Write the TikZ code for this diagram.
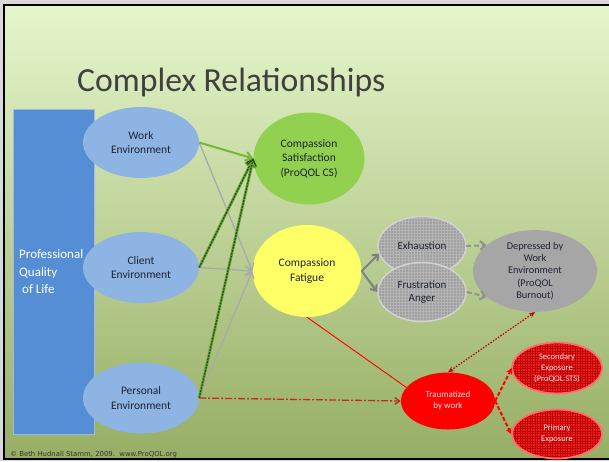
\documentclass[tikz,border=0pt]{standalone}
\usepackage{fontspec}
\setmainfont{Carlito}
\newfontfamily\footfont{DejaVu Sans}
\usetikzlibrary{patterns,patterns.meta,arrows.meta,shapes.geometric}
\definecolor{bgtop}{RGB}{230,246,204}
\definecolor{bgbot}{RGB}{150,174,100}
\definecolor{qolblue}{RGB}{85,142,213}
\definecolor{envblue}{RGB}{141,180,226}
\definecolor{csgreen}{RGB}{146,208,80}
\definecolor{cfyellow}{RGB}{255,255,102}
\definecolor{hatchgray}{RGB}{160,160,160}
\definecolor{hatchline}{RGB}{182,182,182}
\definecolor{hatchborder}{RGB}{210,210,210}
\definecolor{depgray}{RGB}{166,166,166}
\definecolor{txtdark}{RGB}{30,35,50}
\definecolor{titlegray}{RGB}{64,64,64}
\definecolor{lightgreenline}{RGB}{115,185,55}
\definecolor{darkgreenline}{RGB}{40,75,25}
\definecolor{midgreenline}{RGB}{100,165,55}
\definecolor{grayline}{RGB}{170,170,170}
\definecolor{darkgrayline}{RGB}{128,128,128}
\definecolor{dashgrayline}{RGB}{145,145,145}
\definecolor{dashdotred}{RGB}{200,40,30}
\definecolor{dotred}{RGB}{190,0,0}
\definecolor{redborder}{RGB}{255,110,110}
\definecolor{redfill}{RGB}{235,35,35}
\definecolor{redgrid}{RGB}{190,0,0}
\definecolor{pinkwhite}{RGB}{255,225,225}
\tikzset{
  envnode/.style={ellipse, fill=envblue, minimum width=116pt, minimum height=71pt,
    inner sep=0pt, align=center, text=txtdark, font=\fontsize{11.5}{14.5}\selectfont},
  bignode/.style={ellipse, inner sep=0pt, align=center, text=txtdark,
    font=\fontsize{11.5}{14.5}\selectfont},
  hatchnode/.style={ellipse, minimum width=88pt, minimum height=59pt, inner sep=0pt,
    align=center, draw=hatchborder, line width=1.5pt, preaction={fill=hatchgray},
    pattern={Hatch[angle=0,distance=3pt,line width=0.35pt]}, pattern color=hatchline,
    text=txtdark, font=\fontsize{11}{12.7}\selectfont},
  rednode/.style={ellipse, minimum width=90pt, minimum height=51pt, inner sep=0pt,
    align=center, draw=redborder, line width=1.8pt, preaction={fill=redfill},
    pattern={Hatch[angle=0,distance=2.5pt,line width=0.5pt]}, pattern color=redgrid,
    text=pinkwhite, font=\fontsize{8.5}{10.7}\selectfont},
  greenarrow/.style={draw=lightgreenline, line width=2pt,
    -{Straight Barb[length=6pt,width=9pt]}},
  dkgreenarrow/.style={draw=darkgreenline, line width=1.2pt, dash pattern=on 2pt off 1pt,
    preaction={draw=midgreenline, line width=2.8pt, solid},
    -{Straight Barb[length=6pt,width=9pt]}},
  greyline/.style={draw=grayline, line width=1.3pt, -{Straight Barb[length=6pt,width=9pt]}},
  greyarrow/.style={draw=darkgrayline, line width=2pt, -{Straight Barb[length=5pt,width=8pt]}},
  greydash/.style={draw=dashgrayline, line width=2pt, dash pattern=on 5pt off 3pt,
    -{Straight Barb[length=5pt,width=9pt]}},
  redthin/.style={draw=red, line width=0.9pt},
  reddashdot/.style={draw=dashdotred, line width=1.3pt, dash pattern=on 7pt off 2pt on 2pt off 2pt,
    -{Straight Barb[length=5pt,width=7pt]}},
  reddotted/.style={draw=dotred, line width=1.2pt, dash pattern=on 1.5pt off 1.5pt,
    {Stealth[length=6pt,width=5pt]}-{Stealth[length=6pt,width=5pt]}},
  reddashed/.style={draw=red, line width=2pt, dash pattern=on 4pt off 2pt,
    -{Stealth[length=6pt,width=6pt]}}
}
\begin{document}
\begin{tikzpicture}[x=1pt,y=-1pt]
\useasboundingbox (0,0) rectangle (609,461);
\fill[gray!30] (0,0) rectangle (609,461);
\shade[top color=bgtop, bottom color=bgbot] (4,5) rectangle (614,459);
\draw[black, line width=2pt] (4,5) rectangle (614,459);

\node[anchor=base west, inner sep=0pt, font=\fontsize{33.7}{40}\selectfont, text=titlegray]
  (title) at (77,91) {Complex Relationships};

\node[draw=qolblue!60!white, fill=qolblue, line width=1pt, minimum width=81pt,
  minimum height=325pt, anchor=north west, inner sep=0pt] (qol) at (13,109) {};

\node[envnode] (work) at (141,142.5) {Work\\Environment};
\node[envnode] (client) at (141,267.5) {Client\\Environment};
\node[envnode] (personal) at (141,398) {Personal\\Environment};

\node[anchor=west, inner sep=0pt, align=left, text=white,
  font=\fontsize{13}{17.5}\selectfont] (qoltxt) at (19,272)
  {Professional\\Quality\\\hspace{3pt}of Life};

\node[bignode, fill=csgreen, minimum width=111pt, minimum height=92pt] (cs) at (309,158.5)
  {Compassion\\Satisfaction\\(ProQOL CS)};
\node[bignode, fill=cfyellow, minimum width=109pt, minimum height=92pt] (cf) at (307,271)
  {Compassion\\Fatigue};

\node[hatchnode] (exh) at (422,246) {Exhaustion};
\node[hatchnode] (frus) at (422,292) {Frustration\\Anger};

\node[ellipse, fill=depgray, minimum width=124pt, minimum height=64pt, inner sep=0pt,
  align=center, text=txtdark, font=\fontsize{10.3}{12.3}\selectfont] (dep) at (535,271)
  {Depressed by\\Work\\Environment\\(ProQOL\\Burnout)};

\node[ellipse, fill=red, minimum width=94pt, minimum height=57pt, inner sep=0pt,
  align=center, text=pinkwhite, font=\fontsize{9}{11}\selectfont] (trauma) at (448,401)
  {Traumatized\\by work};

\node[rednode] (sec) at (557,368) {Secondary\\Exposure\\(ProQOL STS)};
\node[rednode, minimum height=49pt] (prim) at (557,434) {Primary\\Exposure};

% connectors
\draw[greyline] (work.east) -- (cf.west);
\draw[greyline] (client.east) -- (cf.west);
\draw[greyline] (personal.east) -- (cf.west);
\draw[greenarrow] (work.east) -- (cs.west);
\draw[dkgreenarrow] (client.east) -- (cs.west);
\draw[dkgreenarrow] (personal.east) -- (cs.west);

\draw[greyarrow] (cf.east) -- (exh.190);
\draw[greyarrow] (cf.east) -- (frus.west);
\draw[greydash] (exh.east) -- (dep.152);
\draw[greydash] (frus.east) -- (dep.208);

\draw[redthin] (cf.south) -- (trauma.162);
\draw[reddashdot] (personal.east) -- (trauma.west);
\draw[reddotted] (trauma.north) -- (dep.south);
\draw[reddashed] (trauma.east) -- (sec.west);
\draw[reddashed] (trauma.east) -- (prim.west);

\node[anchor=base west, inner sep=0pt, text=black!80, font=\footfont\fontsize{6.9}{8}\selectfont]
  (foot) at (10,456) {\textcopyright{} Beth Hudnall Stamm, 2009.\ \ www.ProQOL.org};
\end{tikzpicture}
\end{document}
